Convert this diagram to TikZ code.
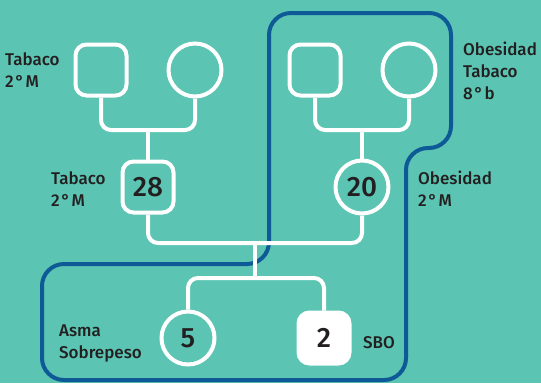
\documentclass[tikz,border=0pt]{standalone}
\usepackage{fontspec}
\setmainfont{Fira Sans}
\newfontfamily\lblfont{Fira Sans Medium}
\usepackage{tikz}
\definecolor{teal}{HTML}{5BC4B3}
\definecolor{grpblue}{HTML}{0E5A97}
\definecolor{ink}{HTML}{231F20}
\newcommand{\grado}{\kern1.5pt°\kern1.5pt}
\tikzset{
  member/.style = {draw=white, line width=4pt, inner sep=0pt, text=ink, font=\lblfont\fontsize{28}{30}\selectfont},
  male/.style = {member, rectangle, rounded corners=11pt, minimum width=51pt, minimum height=51pt},
  female/.style = {member, circle, minimum size=53pt},
  link/.style = {draw=white, line width=4pt, rounded corners=10pt},
  group/.style = {draw=grpblue, line width=4pt, rounded corners=22pt},
  note/.style = {align=left, anchor=north west, inner sep=0pt, text=ink, font=\lblfont\fontsize{17}{22}\selectfont},
}

\begin{document}
\begin{tikzpicture}[x=1pt, y=-1pt]
\fill[teal] (0,0) rectangle (541,383);
\useasboundingbox (0,0) rectangle (541,383);
% grouped relatives
\draw[group] (269,200) -- (269,13) -- (451,13) -- (451,148) -- (406,148) -- (406,380) -- (42,380) -- (42,264) -- (269,264) -- cycle;
% grandparents
\node [male] (GPa) at (101,70) {};
\node [female] (GMa) at (195,70) {};
\node [male] (GPb) at (315,70) {};
\node [female] (GMb) at (409,70) {};
% parents
\node [male] (F) at (148,187) {28};
\node [female] (M) at (362,187) {20};
% children
\node [female] (C1) at (188,338) {5};
\node [male, fill=white] (C2) at (324,338) {2};
\coordinate (JA) at (148,130);
\coordinate (JB) at (362,130);
\coordinate (JC) at (255,243);
\coordinate (JD) at (255,278);
\draw[link] (GPa.south) |- (JA) -| (GMa.south);
\draw[link] (GPb.south) |- (JB) -| (GMb.south);
\draw[link] (JA) -- (F.north);
\draw[link] (JB) -- (M.north);
\draw[link] (F.south) |- (JC) -| (M.south);
\draw[link] (JC) -- (JD);
\draw[link] (C1.north) |- (JD) -| (C2.north);
% labels
\node [note] (tA) at (5,52) {Tabaco\\2\grado M};
\node [note] (tF) at (51,171) {Tabaco\\2\grado M};
\node [note] (tB) at (463,42) {Obesidad\\Tabaco\\8\grado b};
\node [note] (tM) at (418,171) {Obesidad\\2\grado M};
\node [note] (tC1) at (59,325) {Asma\\Sobrepeso};
\node [note] (tC2) at (363,336) {SBO};
\end{tikzpicture}
\end{document}
